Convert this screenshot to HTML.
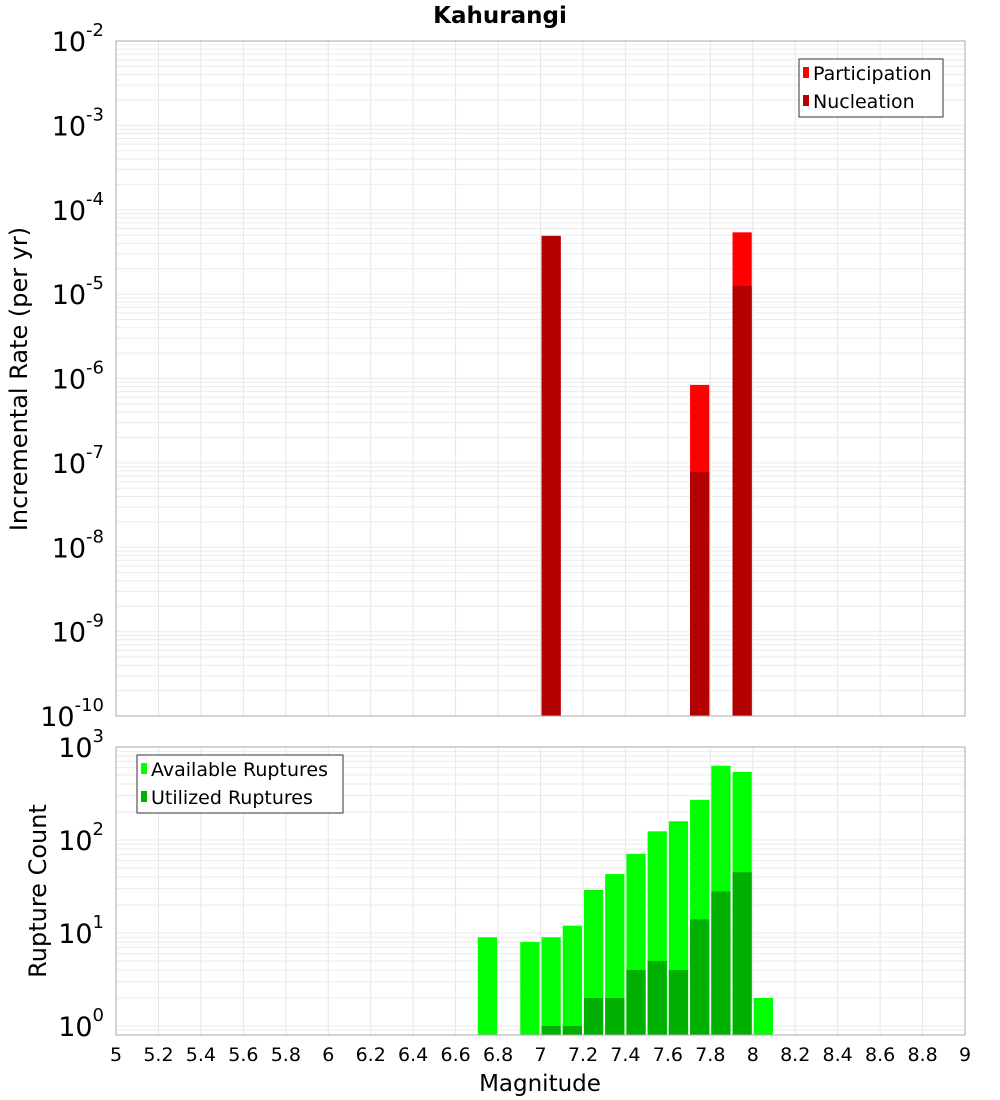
<!DOCTYPE html>
<html><head><meta charset="utf-8"><style>
body{margin:0;background:#fff;}
svg{display:block;font-family:"DejaVu Sans","Liberation Sans",sans-serif;}
</style></head><body>
<svg id="c" width="1000" height="1100" xmlns="http://www.w3.org/2000/svg"></svg>
<script>
const bins = [6.75,6.95,7.05,7.15,7.25,7.35,7.45,7.55,7.65,7.75,7.85,7.95,8.05];
const available = [9,8,9,12,29,43,71,124,159,270,628,540,2];
const utilized = [0,0,1,1,2,2,4,5,4,14,28,45,0];
const rateMags = [7.05,7.75,7.95];
const participation = [4.9e-5,8.4e-7,5.4e-5];
const nucleation = [4.9e-5,7.8e-8,1.25e-5];
const xTicks = [5,5.2,5.4,5.6,5.8,6,6.2,6.4,6.6,6.8,7,7.2,7.4,7.6,7.8,8,8.2,8.4,8.6,8.8,9];
const topDecades = [-10,-9,-8,-7,-6,-5,-4,-3,-2];
const botDecades = [0,1,2,3];

const NS="http://www.w3.org/2000/svg";
const svg=document.getElementById('c');
function mk(tag,attrs,parent){const e=document.createElementNS(NS,tag);for(const k in attrs)e.setAttribute(k,attrs[k]);(parent||svg).appendChild(e);return e;}
const X0=116,X1=965;
const x=v=>X0+(v-5)/4*(X1-X0);
const T0=41,T1=716;
const yTop=v=>T0+(-2-Math.log10(v))*(T1-T0)/8;
const yBot=v=>1026-Math.log10(v)*93;
const B0=747,B1=1035;
const bw=(x(5.1)-x(5))-2;

let t=mk('text',{x:500,y:23,'text-anchor':'middle','font-size':23,'font-weight':'bold'});t.textContent='Kahurangi';


function panel(py0,py1,decades,yf,name){
  const g=mk('g',{});
  
  
  mk('rect',{x:X0,y:py0,width:X1-X0,height:py1-py0,fill:'#fff'},g);
  xTicks.forEach(v=>{mk('line',{x1:x(v),x2:x(v),y1:py0,y2:py1,stroke:'#e6e6e6','stroke-width':1},g);});
  decades.forEach((d,i)=>{
    for(let m=1;m<=9;m++){const yy=yf(m*Math.pow(10,d)); if(yy>=py0&&yy<=py1) mk('line',{x1:X0,x2:X1,y1:yy,y2:yy,stroke:'#ebebeb','stroke-width':1},g);}
  });
  if(decades[0]===0){for(let m=8;m<=9;m++){const yy=yf(m/10);if(yy<=py1)mk('line',{x1:X0,x2:X1,y1:yy,y2:yy,stroke:'#ebebeb'},g);}}
  return g;
}
const gTop=panel(T0,T1,topDecades,yTop,'rate-plot');
const gBot=panel(B0,B1,botDecades,yBot,'count-plot');

rateMags.forEach((m,i)=>{
  const xl=x(m)-bw/2;
  let r=mk('rect',{x:xl,y:yTop(participation[i]),width:bw,height:T1-yTop(participation[i]),fill:'#ff0000'},gTop);
  
  r=mk('rect',{x:xl,y:yTop(nucleation[i]),width:bw,height:T1-yTop(nucleation[i]),fill:'#b30000'},gTop);
  
});
bins.forEach((m,i)=>{
  const xl=x(m)-bw/2;
  if(available[i]>0){const yy=yBot(available[i]);
    const r=mk('rect',{x:xl,y:yy,width:bw,height:B1-yy,fill:'#00ff00'},gBot);
    }
  if(utilized[i]>0){const yy=yBot(utilized[i]);
    const r=mk('rect',{x:xl,y:yy,width:bw,height:B1-yy,fill:'#00b000'},gBot);
    }
});
mk('rect',{x:X0,y:T0,width:X1-X0,height:T1-T0,fill:'none',stroke:'#aaa'});
mk('rect',{x:X0,y:B0,width:X1-X0,height:B1-B0,fill:'none',stroke:'#aaa'});

function ylab(d,yy){
  const tt=mk('text',{x:104,y:yy+10,'text-anchor':'end','font-size':27,fill:'#000'});
  
  const a=mk('tspan',{},tt);a.textContent='10';
  const b=mk('tspan',{dy:-15,'font-size':18},tt);b.textContent=String(d);
}
topDecades.forEach(d=>ylab(d,yTop(Math.pow(10,d))));
botDecades.forEach(d=>ylab(d,yBot(Math.pow(10,d))));
xTicks.forEach(v=>{
  const tt=mk('text',{x:x(v),y:1061,'text-anchor':'middle','font-size':19});
  tt.textContent=String(v);
  
});
t=mk('text',{x:540,y:1091,'text-anchor':'middle','font-size':23});t.textContent='Magnitude';

t=mk('text',{x:0,y:0,'text-anchor':'middle','font-size':24,transform:'translate(27,379) rotate(-90)'});t.textContent='Incremental Rate (per yr)';

t=mk('text',{x:0,y:0,'text-anchor':'middle','font-size':24,transform:'translate(46,891) rotate(-90)'});t.textContent='Rupture Count';


function legend(lx,ly,w,items,name){
  const g=mk('g',{});
  
  mk('rect',{x:lx,y:ly,width:w,height:58,fill:'#fff',stroke:'#333'},g);
  items.forEach((it,i)=>{
    mk('rect',{x:lx+4,y:ly+8+i*28,width:6,height:11,fill:it[1]},g);
    const tt=mk('text',{x:lx+14,y:ly+21+i*28,'font-size':19},g);tt.textContent=it[0];
  });
}
legend(799,59,144,[['Participation','#ff0000'],['Nucleation','#b30000']],'rate-legend');
legend(137,755,206,[['Available Ruptures','#00ff00'],['Utilized Ruptures','#00b000']],'count-legend');
</script>
</body></html>
